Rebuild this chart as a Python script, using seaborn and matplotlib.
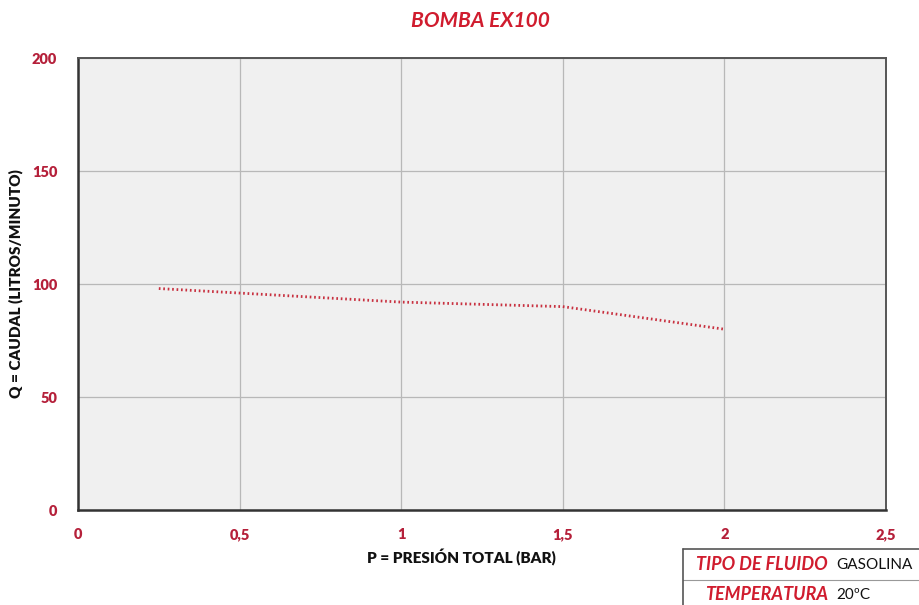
import matplotlib
matplotlib.use("Agg")
import matplotlib.pyplot as plt
import seaborn as sns
import pandas as pd
from matplotlib.lines import Line2D
from matplotlib.ticker import MultipleLocator

# Curve data
presion = [0.25, 0.5, 1.0, 1.5, 2.0]
caudal = [98, 96, 92, 90, 80]
x_ticks = [0, 0.5, 1, 1.5, 2, 2.5]
x_tick_labels = ["0", "0,5", "1", "1,5", "2", "2,5"]
y_ticks = [0, 50, 100, 150, 200]
y_tick_labels = ["0", "50", "100", "150", "200"]
tabla = [("TIPO DE FLUIDO", "GASOLINA"), ("TEMPERATURA", "20ºC")]

df = pd.DataFrame({"P": presion, "Q": caudal})

RED = "#d01c2e"
TICK_RED = "#b5203a"

sns.set_style("whitegrid")
plt.rcParams["font.family"] = ["Lato", "DejaVu Sans"]

fig = plt.figure(figsize=(9.19, 6.05), dpi=100)
ax = fig.add_axes([0.0849, 0.157, 0.8792, 0.7471])
ax.set_facecolor("#f0f0f0")

sns.lineplot(data=df, x="P", y="Q", ax=ax, color="#c8303f", linewidth=2.0,
             linestyle=(0, (0.6, 1.0)), dash_capstyle="butt")

ax.set_xlim(0, 2.5)
ax.set_ylim(0, 200)
ax.set_xticks(x_ticks, x_tick_labels, fontweight="heavy")
ax.set_yticks(y_ticks, y_tick_labels, fontweight="heavy")
ax.xaxis.set_minor_locator(MultipleLocator(0.25))
ax.yaxis.set_minor_locator(MultipleLocator(25))

ax.grid(True, which="major", color="#b8b8b8", linewidth=0.9)
ax.tick_params(axis="both", which="major", direction="out", length=5, width=1,
               color="#444444", labelcolor=TICK_RED, labelsize=10.5)
ax.tick_params(axis="both", which="minor", direction="in", length=3, width=0.8,
               color="#777777")
ax.tick_params(axis="x", pad=8)
ax.tick_params(axis="y", pad=10)

for side in ["left", "bottom"]:
    ax.spines[side].set_color("#333333")
    ax.spines[side].set_linewidth(1.8)
for side in ["top", "right"]:
    ax.spines[side].set_color("#555555")
    ax.spines[side].set_linewidth(1.4)

ax.set_xlabel("P = PRESIÓN TOTAL (BAR)", fontsize=11, fontweight="heavy", color="#111111")
ax.set_ylabel("Q = CAUDAL (LITROS/MINUTO)", fontsize=11, fontweight="heavy", color="#111111")
ax.xaxis.set_label_coords(0.474, -0.104)
ax.yaxis.set_label_coords(-0.077, 0.5)
ax.xaxis.label.set_va("center")
ax.yaxis.label.set_va("center")

fig.text(0.523, 0.965, "BOMBA EX100", ha="center", va="center", color=RED,
         fontsize=15, fontweight="bold", fontstyle="italic")

# Info box at bottom right
x0 = 683 / 919
fig.add_artist(Line2D([x0, 1.0], [1 - 549 / 605] * 2, color="#555555", linewidth=1.2))
fig.add_artist(Line2D([x0, 1.0], [1 - 580 / 605] * 2, color="#999999", linewidth=0.8))
fig.add_artist(Line2D([x0, x0], [1 - 549 / 605, 0], color="#555555", linewidth=1.2))
fig.text(828 / 919, 1 - 565 / 605, tabla[0][0], ha="right", va="center", color=RED,
         fontsize=13, fontweight="bold", fontstyle="italic")
fig.text(836 / 919, 1 - 565 / 605, tabla[0][1], ha="left", va="center", color="#111111",
         fontsize=11)
fig.text(828 / 919, 1 - 595 / 605, tabla[1][0], ha="right", va="center", color=RED,
         fontsize=13, fontweight="bold", fontstyle="italic")
fig.text(836 / 919, 1 - 595 / 605, tabla[1][1], ha="left", va="center", color="#111111",
         fontsize=11)

fig.savefig("out.png", dpi=100)
